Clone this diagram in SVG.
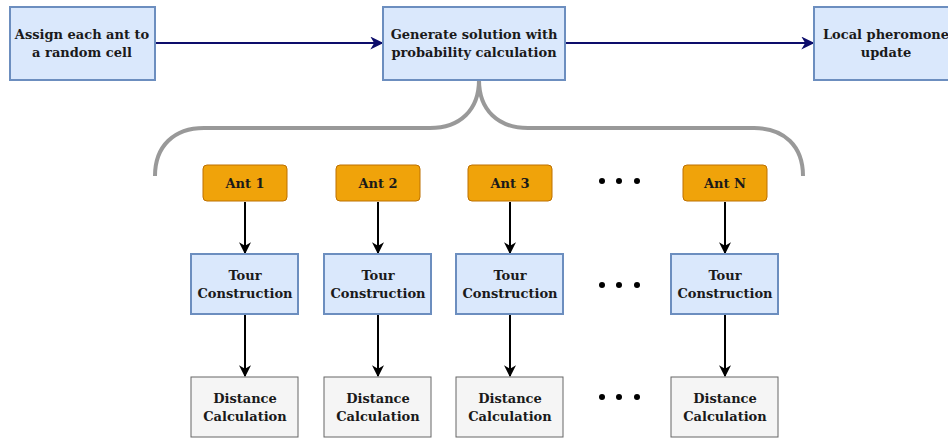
<svg xmlns="http://www.w3.org/2000/svg" width="948" height="439" viewBox="0 0 948 439">
<defs>
<style>
text{font-family:"DejaVu Serif","Liberation Serif",serif;font-weight:bold;font-size:13px;fill:#1a1a1a;text-anchor:middle}
.blue{fill:#dae8fc;stroke:#6c8ebf;stroke-width:2}
.ant{fill:#f0a30a;stroke:#bd7000;stroke-width:1}
.gray{fill:#f5f5f5;stroke:#666666;stroke-width:1}
.nav{stroke:#0d0d6b;stroke-width:2;fill:none}
.blk{stroke:#000;stroke-width:2;fill:none}
.dot{fill:#000}
</style>
<marker id="ah" markerWidth="12" markerHeight="12" viewBox="0 0 10 10" refX="9" refY="5" orient="auto" markerUnits="userSpaceOnUse">
<path d="M0,0 L10,5 L0,10 L3,5 Z" fill="#000"/>
</marker>
<marker id="ahn" markerWidth="13" markerHeight="13" viewBox="0 0 10 10" refX="9" refY="5" orient="auto" markerUnits="userSpaceOnUse">
<path d="M0,0 L10,5 L0,10 L3,5 Z" fill="#0d0d6b"/>
</marker>
</defs>
<rect width="948" height="439" fill="#ffffff"/>

<g id="connectors">
<path class="nav" d="M155,43 L382,43" marker-end="url(#ahn)"/>
<path class="nav" d="M565,43 L813,43" marker-end="url(#ahn)"/>
<path d="M155,176 C155,146 174,128 204,128 L430,128 C460,128 479,110 479,80 C479,110 498,128 528,128 L754,128 C784,128 803,146 803,176" fill="none" stroke="#999999" stroke-width="4"/>
<path class="blk" d="M245,202 L245,253" marker-end="url(#ah)"/>
<path class="blk" d="M378,202 L378,253" marker-end="url(#ah)"/>
<path class="blk" d="M510,202 L510,253" marker-end="url(#ah)"/>
<path class="blk" d="M725,202 L725,253" marker-end="url(#ah)"/>
<path class="blk" d="M245,315 L245,376" marker-end="url(#ah)"/>
<path class="blk" d="M378,315 L378,376" marker-end="url(#ah)"/>
<path class="blk" d="M510,315 L510,376" marker-end="url(#ah)"/>
<path class="blk" d="M725,315 L725,376" marker-end="url(#ah)"/>
</g>

<g id="assign">
<rect class="blue" x="10" y="7" width="145" height="73"/>
<text x="82" y="39">Assign each ant to</text>
<text x="82" y="57">a random cell</text>
</g>
<g id="generate">
<rect class="blue" x="383" y="7" width="182" height="73"/>
<text x="474" y="39">Generate solution with</text>
<text x="474" y="57">probability calculation</text>
</g>
<g id="local">
<rect class="blue" x="814" y="7" width="145" height="73"/>
<text x="886" y="39">Local pheromone</text>
<text x="886" y="57">update</text>
</g>

<g id="ant1"><rect class="ant" x="203" y="165" width="84" height="36" rx="4"/><text x="245" y="188">Ant 1</text></g>
<g id="ant2"><rect class="ant" x="336" y="165" width="84" height="36" rx="4"/><text x="378" y="188">Ant 2</text></g>
<g id="ant3"><rect class="ant" x="468" y="165" width="84" height="36" rx="4"/><text x="510" y="188">Ant 3</text></g>
<g id="antN"><rect class="ant" x="683" y="165" width="84" height="36" rx="4"/><text x="725" y="188">Ant N</text></g>

<g id="dots1"><circle class="dot" cx="602" cy="181" r="3"/><circle class="dot" cx="619" cy="181" r="3"/><circle class="dot" cx="637" cy="181" r="3"/></g>
<g id="dots2"><circle class="dot" cx="602" cy="285" r="3"/><circle class="dot" cx="619" cy="285" r="3"/><circle class="dot" cx="637" cy="285" r="3"/></g>
<g id="dots3"><circle class="dot" cx="602" cy="397" r="3"/><circle class="dot" cx="619" cy="397" r="3"/><circle class="dot" cx="637" cy="397" r="3"/></g>

<g id="tour1"><rect class="blue" x="191" y="254" width="107" height="60"/><text x="245" y="280">Tour</text><text x="245" y="298">Construction</text></g>
<g id="tour2"><rect class="blue" x="324" y="254" width="107" height="60"/><text x="378" y="280">Tour</text><text x="378" y="298">Construction</text></g>
<g id="tour3"><rect class="blue" x="456" y="254" width="107" height="60"/><text x="510" y="280">Tour</text><text x="510" y="298">Construction</text></g>
<g id="tourN"><rect class="blue" x="671" y="254" width="107" height="60"/><text x="725" y="280">Tour</text><text x="725" y="298">Construction</text></g>

<g id="dist1"><rect class="gray" x="191" y="377" width="107" height="60"/><text x="245" y="403">Distance</text><text x="245" y="421">Calculation</text></g>
<g id="dist2"><rect class="gray" x="324" y="377" width="107" height="60"/><text x="378" y="403">Distance</text><text x="378" y="421">Calculation</text></g>
<g id="dist3"><rect class="gray" x="456" y="377" width="107" height="60"/><text x="510" y="403">Distance</text><text x="510" y="421">Calculation</text></g>
<g id="distN"><rect class="gray" x="671" y="377" width="107" height="60"/><text x="725" y="403">Distance</text><text x="725" y="421">Calculation</text></g>
</svg>
